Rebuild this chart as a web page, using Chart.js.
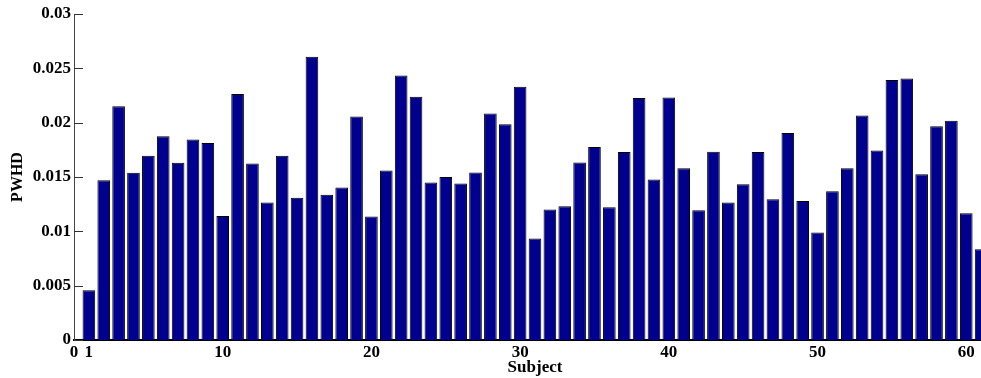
<!DOCTYPE html>
<html>
<head>
<meta charset="utf-8">
<script src="https://cdn.jsdelivr.net/npm/chart.js@4/dist/chart.umd.min.js"></script>
<style>
  html, body { margin: 0; padding: 0; background: #fff; overflow: hidden; }
  #wrap { width: 996px; height: 378px; }
</style>
</head>
<body>
<div id="wrap"><canvas id="c" width="996" height="378"></canvas></div>
<script>
// Subject numbers along the horizontal axis
const subjects = [
  1, 2, 3, 4, 5, 6, 7, 8, 9, 10,
  11, 12, 13, 14, 15, 16, 17, 18, 19, 20,
  21, 22, 23, 24, 25, 26, 27, 28, 29, 30,
  31, 32, 33, 34, 35, 36, 37, 38, 39, 40,
  41, 42, 43, 44, 45, 46, 47, 48, 49, 50,
  51, 52, 53, 54, 55, 56, 57, 58, 59, 60,
  61
];

// PWHD per subject
const pwhd = [
  0.00458, 0.01471, 0.02152, 0.01538, 0.01695, 0.01876, 0.01630, 0.01845, 0.01814, 0.01142,
  0.02263, 0.01624, 0.01265, 0.01695, 0.01308, 0.02607, 0.01336, 0.01403, 0.02057, 0.01136,
  0.01560, 0.02435, 0.02238, 0.01449, 0.01501, 0.01440, 0.01541, 0.02085, 0.01986, 0.02330,
  0.00933, 0.01200, 0.01231, 0.01633, 0.01775, 0.01222, 0.01729, 0.02226, 0.01477, 0.02232,
  0.01581, 0.01194, 0.01732, 0.01265, 0.01434, 0.01729, 0.01296, 0.01904, 0.01280, 0.00989,
  0.01370, 0.01581, 0.02066, 0.01744, 0.02392, 0.02407, 0.01526, 0.01968, 0.02017, 0.01167,
  0.00835
];

// Tick positions and labels
const xTicks = [0, 1, 10, 20, 30, 40, 50, 60];
const yTicks = [0, 0.005, 0.01, 0.015, 0.02, 0.025, 0.03];
const yTickLabels = ['0', '0.005', '0.01', '0.015', '0.02', '0.025', '0.03'];

const FONT = "'Liberation Serif', 'Times New Roman', serif";

// Short inward tick marks on the value axis
const inwardTicks = {
  id: 'inwardTicks',
  afterDatasetsDraw(chart) {
    const { ctx, scales: { x, y } } = chart;
    ctx.save();
    ctx.strokeStyle = '#333';
    ctx.lineWidth = 1;
    yTicks.forEach(v => {
      const py = Math.round(y.getPixelForValue(v)) + 0.5;
      const px = x.getPixelForValue(0);
      ctx.beginPath();
      ctx.moveTo(px, py);
      ctx.lineTo(px + 9, py);
      ctx.stroke();
    });
    ctx.restore();
  }
};

new Chart(document.getElementById('c'), {
  type: 'bar',
  data: {
    datasets: [{
      data: subjects.map((s, i) => ({ x: s, y: pwhd[i] })),
      backgroundColor: '#00008F',
      borderColor: '#000000',
      borderWidth: 1,
      barPercentage: 0.85,
      categoryPercentage: 1.0
    }]
  },
  options: {
    responsive: false,
    animation: false,
    events: [],
    layout: { padding: { top: 14, right: 0, bottom: 0, left: 0 } },
    plugins: { legend: { display: false }, tooltip: { enabled: false } },
    scales: {
      x: {
        type: 'linear',
        min: 0,
        max: 62,
        offset: false,
        grid: { display: false, drawTicks: false },
        border: { display: true, color: '#000', width: 2 },
        afterBuildTicks(scale) { scale.ticks = xTicks.map(v => ({ value: v })); },
        afterFit(scale) { scale.height = 38; },
        ticks: {
          autoSkip: false,
          maxRotation: 0,
          padding: 2,
          color: '#000',
          font: { family: FONT, size: 17, weight: 'bold' },
          callback: v => String(v)
        },
        title: {
          display: true,
          text: 'Subject',
          color: '#000',
          padding: { top: 0, bottom: 0 },
          font: { family: FONT, size: 17, weight: 'bold' }
        }
      },
      y: {
        min: 0,
        max: 0.03,
        grid: { display: false, drawTicks: false },
        border: { display: true, color: '#444', width: 1 },
        afterBuildTicks(scale) { scale.ticks = yTicks.map(v => ({ value: v })); },
        afterFit(scale) { scale.width = 74; },
        ticks: {
          padding: 3,
          color: '#000',
          font: { family: FONT, size: 17, weight: 'bold' },
          callback: (v, i) => yTickLabels[i]
        },
        title: {
          display: true,
          text: 'PWHD',
          color: '#000',
          padding: { top: 8, bottom: 0 },
          font: { family: FONT, size: 16, weight: 'bold' }
        }
      }
    }
  },
  plugins: [inwardTicks]
});
</script>
</body>
</html>
